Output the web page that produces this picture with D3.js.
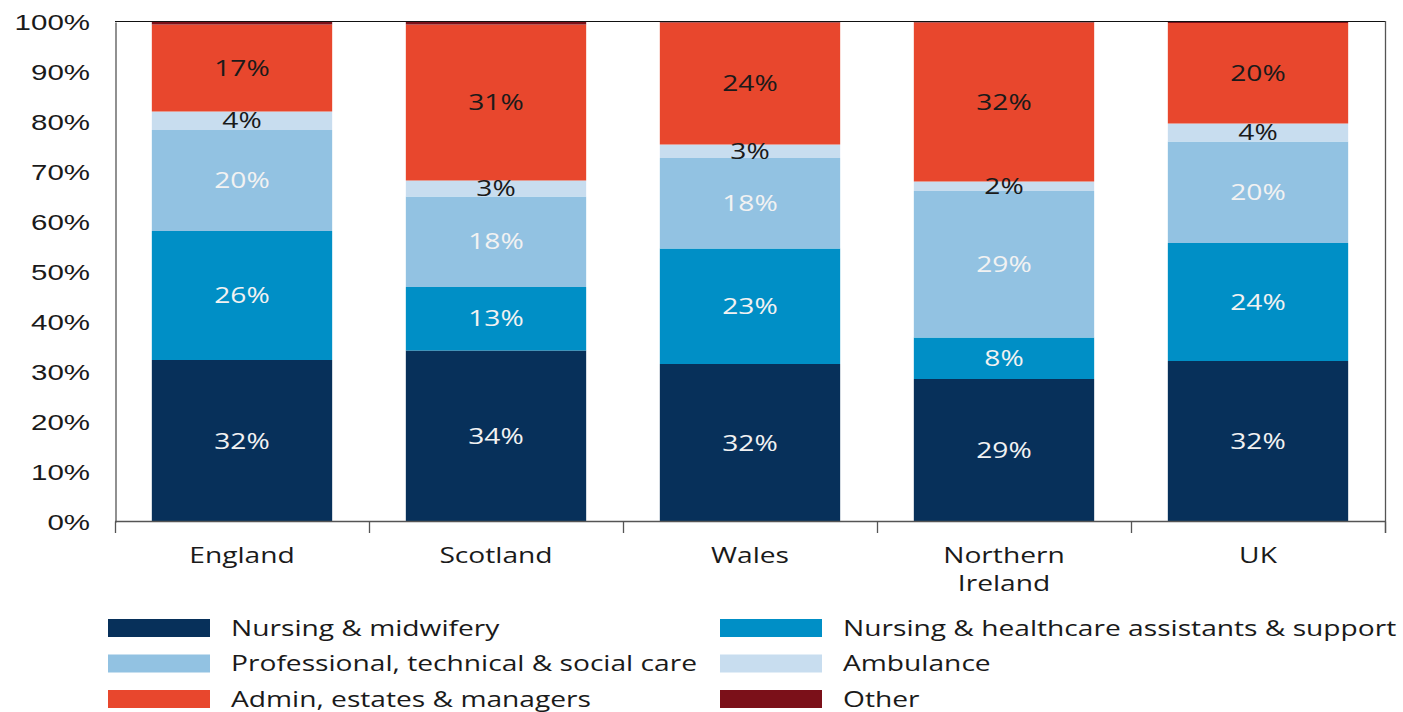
<!DOCTYPE html>
<html>
<head>
<meta charset="utf-8">
<script src="https://cdn.jsdelivr.net/npm/d3@7"></script>
<style>
  html, body { margin: 0; padding: 0; background: #ffffff; }
  svg { display: block; font-family: "Open Sans", "Noto Sans", sans-serif; }
</style>
</head>
<body>
<svg id="chart" width="1403" height="712"></svg>
<script>
// NHS workforce by staff group, share of total (%)
const categories = ["England", "Scotland", "Wales", "Northern Ireland", "UK"];
const seriesNames = [
  "Nursing & midwifery",
  "Nursing & healthcare assistants & support",
  "Professional, technical & social care",
  "Ambulance",
  "Admin, estates & managers",
  "Other"
];
const nursing      = [32.4, 34.3, 31.6, 28.6, 32.2];
const support      = [25.8, 12.7, 23.1,  8.3, 23.6];
const professional = [20.2, 18.1, 18.1, 29.3, 20.3];
const ambulance    = [ 3.7,  3.2,  2.7,  1.9,  3.6];
const admin        = [17.4, 31.2, 24.4, 31.8, 20.1];
const other        = [ 0.5,  0.5,  0.1,  0.1,  0.2];
const yTicks = [0, 10, 20, 30, 40, 50, 60, 70, 80, 90, 100];

const colors = ["#07305a", "#008fc6", "#92c2e2", "#c8ddef", "#e8472d", "#7b1019"];
const labelColors = ["#f2f2f2", "#f2f2f2", "#f2f2f2", "#1a1a1a", "#1a1a1a", null];
const seriesValues = [nursing, support, professional, ambulance, admin, other];

// rows for d3.stack
const rows = categories.map((c, i) => {
  const r = { category: c };
  seriesNames.forEach((s, k) => { r[s] = seriesValues[k][i]; });
  return r;
});
const stacked = d3.stack().keys(seriesNames)(rows);

const svg = d3.select("#chart");
const SX = 1.31;          // horizontal stretch applied to text
const FS = 21.5;          // base font size

const x = d3.scaleBand().domain(categories).range([115, 1385])
  .paddingInner(0.29).paddingOuter(0.145);
const y = d3.scaleLinear().domain([0, 100]).range([522, 22]);

function stretchedText(g, tx, ty, str, anchor, fill, size) {
  return g.append("text")
    .attr("transform", `translate(${tx},${ty}) scale(${SX},1)`)
    .attr("text-anchor", anchor)
    .attr("fill", fill)
    .attr("font-size", size || FS)
    .text(str);
}

// bars
const layers = svg.append("g").selectAll("g.layer")
  .data(stacked).join("g").attr("class", "layer")
  .attr("fill", (d, k) => colors[k]);

layers.selectAll("rect")
  .data(d => d)
  .join("rect")
  .attr("x", d => x(d.data.category))
  .attr("width", x.bandwidth())
  .attr("y", d => y(d[1]))
  .attr("height", d => y(d[0]) - y(d[1]));

// segment value labels
const labelG = svg.append("g");
stacked.forEach((layer, k) => {
  if (!labelColors[k]) return;
  layer.forEach(d => {
    const v = d[1] - d[0];
    const cx = x(d.data.category) + x.bandwidth() / 2;
    const cy = (y(d[0]) + y(d[1])) / 2;
    stretchedText(labelG, cx, cy + FS * 0.36, Math.round(v) + "%", "middle", labelColors[k]);
  });
});

// frame: top and right edges
svg.append("line").attr("x1", 115).attr("x2", 1386).attr("y1", 21.5).attr("y2", 21.5)
  .attr("stroke", "#111").attr("stroke-width", 1.2);
svg.append("line").attr("x1", 1385.5).attr("x2", 1385.5).attr("y1", 21).attr("y2", 533)
  .attr("stroke", "#555").attr("stroke-width", 1.3);

// y axis
const yAxis = d3.axisLeft(y).tickValues(yTicks).tickSize(0).tickPadding(0).tickFormat(d => d + "%");
const yG = svg.append("g").attr("transform", "translate(115.5,0)").call(yAxis);
yG.select(".domain").attr("stroke", "#555").attr("stroke-width", 1.3);
yG.selectAll(".tick text").remove();
yTicks.forEach(t => {
  stretchedText(yG, -25.5, y(t) + 22.5 * 0.36, t + "%", "end", "#1a1a1a", 22.5);
});

// x axis: ticks at band boundaries
const bounds = categories.map(c => x(c) - x.step() * 0.145).concat([1385]);
const xG = svg.append("g");
xG.append("line").attr("x1", 115).attr("x2", 1386).attr("y1", 521.5).attr("y2", 521.5)
  .attr("stroke", "#555").attr("stroke-width", 1.3);
xG.selectAll("line.tick").data(bounds).join("line").attr("class", "tick")
  .attr("x1", d => d + 0.5).attr("x2", d => d + 0.5)
  .attr("y1", 521.5).attr("y2", 533)
  .attr("stroke", "#555").attr("stroke-width", 1.3);

categories.forEach(c => {
  const cx = x(c) + x.bandwidth() / 2;
  const parts = c === "Northern Ireland" ? ["Northern", "Ireland"] : [c];
  parts.forEach((p, i) => {
    stretchedText(xG, cx, 555 + i * 28 + FS * 0.36, p, "middle", "#1a1a1a");
  });
});

// legend
const legend = svg.append("g");
const legCols = [108, 720];
const legRows = [628, 663.5, 699];
seriesNames.forEach((s, k) => {
  const lx = legCols[k % 2];
  const ly = legRows[Math.floor(k / 2)];
  legend.append("rect").attr("x", lx).attr("y", ly - 9).attr("width", 102).attr("height", 18)
    .attr("fill", colors[k]);
  stretchedText(legend, lx + 123, ly + FS * 0.36, s, "start", "#1a1a1a");
});
</script>
</body>
</html>
